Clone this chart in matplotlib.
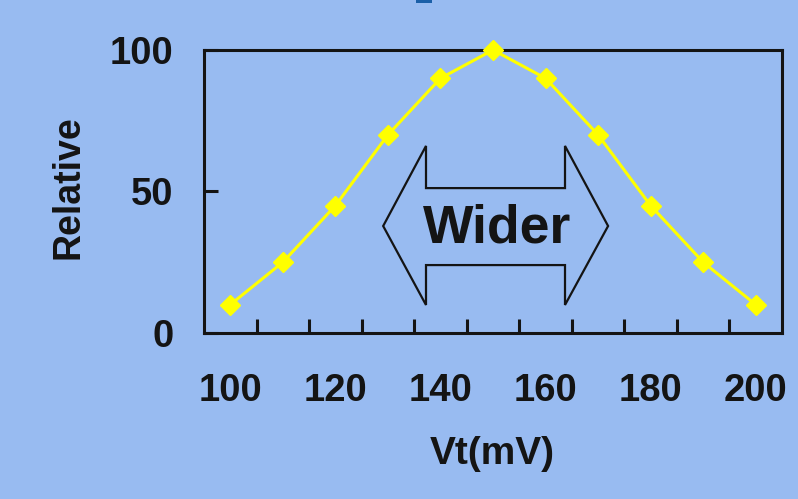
import matplotlib.pyplot as plt
from matplotlib.patches import Polygon, Rectangle

# threshold voltage distribution
vt = [100, 110, 120, 130, 140, 150, 160, 170, 180, 190, 200]
relative = [10, 25, 45, 70, 90, 100, 90, 70, 45, 25, 10]
xtick_labels = [100, 120, 140, 160, 180, 200]
ytick_labels = [0, 50, 100]

bg = "#98bbf1"
ink = "#141414"
font = "Liberation Sans"

fig = plt.figure(figsize=(7.98, 4.99), dpi=100, facecolor=bg)
ax = fig.add_axes([0.2556, 0.3327, 0.7244, 0.5671], facecolor=bg)

ax.plot(vt, relative, color="#ffff00", lw=2.2, marker="D", ms=10.5,
        markeredgecolor="#ffff00", zorder=5, clip_on=False)

ax.set_xlim(95, 205)
ax.set_ylim(0, 100)

# category-style axis: labels under every other point, ticks between points
ax.set_xticks(xtick_labels)
ax.set_xticks([v + 5 for v in vt[:-1]], minor=True)
ax.set_yticks(ytick_labels)
ax.tick_params(axis="x", which="major", length=0, pad=29, labelsize=27.5)
ax.tick_params(axis="x", which="minor", direction="in", length=10, width=2.2, color=ink)
ax.tick_params(axis="y", direction="in", length=10, width=2.2, color=ink, pad=22, labelsize=27.5)
for lab in ax.get_xticklabels() + ax.get_yticklabels():
    lab.set_fontfamily(font)
    lab.set_fontweight("bold")
    lab.set_color(ink)

for s in ax.spines.values():
    s.set_linewidth(2.2)
    s.set_color(ink)

fig.text(0.086, 0.625, "Relative", rotation=90, ha="center", va="center",
         fontsize=27, fontweight="bold", family=font, color=ink)
fig.text(0.617, 0.09, "Vt(mV)", ha="center", va="center",
         fontsize=28, fontweight="bold", family=font, color=ink)

# double-headed "Wider" arrow
tip_l, base_l, base_r, tip_r = 129.1, 137.25, 163.7, 171.9
head_top, shaft_top, mid, shaft_bot, head_bot = 66.1, 51.2, 37.8, 24.0, 9.9
arrow = Polygon([(tip_l, mid), (base_l, head_top), (base_l, shaft_top),
                 (base_r, shaft_top), (base_r, head_top), (tip_r, mid),
                 (base_r, head_bot), (base_r, shaft_bot), (base_l, shaft_bot),
                 (base_l, head_bot)], closed=True, facecolor="none",
                edgecolor=ink, lw=1.6, zorder=3)
ax.add_patch(arrow)
ax.text((tip_l + tip_r) / 2 + 0.2, mid - 1.0, "Wider", ha="center", va="center",
        fontsize=38.5, fontweight="bold", family=font, color=ink, zorder=4)

fig.patches.append(Rectangle((416 / 798, 1 - 3 / 499), 16 / 798, 3 / 499,
                             transform=fig.transFigure, facecolor="#1a5fa8",
                             edgecolor="none"))

fig.savefig("out.png", dpi=100, facecolor=bg)
